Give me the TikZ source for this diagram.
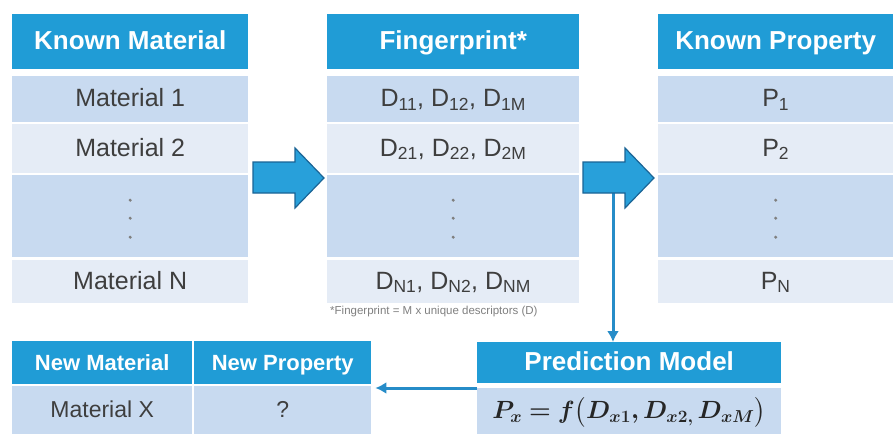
\documentclass[tikz,border=0pt]{standalone}
\usepackage{fontspec}
\setmainfont{Liberation Sans}
\usepackage{amsmath}
\usepackage{bm}
\usetikzlibrary{arrows.meta,positioning,calc}

\definecolor{hdblue}{RGB}{32,156,214}
\definecolor{rowdark}{RGB}{200,218,240}
\definecolor{rowlight}{RGB}{229,236,246}
\definecolor{txtgray}{RGB}{62,62,62}
\definecolor{arrfill}{RGB}{40,160,218}
\definecolor{arrline}{RGB}{26,100,150}
\definecolor{linkblue}{RGB}{38,140,200}

\begin{document}
\begin{tikzpicture}[x=1pt, y=-1pt,
    hd/.style={fill=hdblue, text=white, font=\bfseries\fontsize{26}{28}\selectfont,
        inner sep=0pt, anchor=north west, minimum height=55pt, text height=21pt, text depth=6pt},
    cell/.style={text=txtgray, font=\fontsize{25}{27}\selectfont, inner sep=0pt, anchor=north west,
        text height=20pt, text depth=5pt},
    rowdk/.style={cell, fill=rowdark},
    rowlt/.style={cell, fill=rowlight},
    blk/.style={fill=arrfill, draw=arrline, line width=1.2pt, line join=miter},
    link/.style={draw=linkblue, line width=3pt, -{Latex[length=11pt,width=12pt]}}]
    \useasboundingbox[fill=white] (0,0) rectangle (893,434);

    % Known material
    \node[hd, minimum width=236pt] (kmh) at (12,14) {Known Material};
    \node[rowdk, minimum width=236pt, minimum height=46pt] (km1) at (12,76) {Material 1};
    \node[rowlt, minimum width=236pt, minimum height=49pt] (km2) at (12,124) {Material 2};
    \node[rowdk, minimum width=236pt, minimum height=82pt] (km3) at (12,175) {};
    \node[rowlt, minimum width=236pt, minimum height=43pt] (kmn) at (12,260) {Material N};

    % Fingerprint
    \node[hd, minimum width=252pt] (fph) at (327,14) {Fingerprint*};
    \node[rowdk, minimum width=252pt, minimum height=46pt] (fp1) at (327,76)
        {D\textsubscript{11}, D\textsubscript{12}, D\textsubscript{1M}};
    \node[rowlt, minimum width=252pt, minimum height=49pt] (fp2) at (327,124)
        {D\textsubscript{21}, D\textsubscript{22}, D\textsubscript{2M}};
    \node[rowdk, minimum width=252pt, minimum height=82pt] (fp3) at (327,175) {};
    \node[rowlt, minimum width=252pt, minimum height=43pt] (fpn) at (327,260)
        {D\textsubscript{N1}, D\textsubscript{N2}, D\textsubscript{NM}};
    \node[text=gray, font=\fontsize{11.5}{13}\selectfont, inner sep=0pt,
        below right=3pt and 3pt of fpn.south west] (fpnote)
        {*Fingerprint = M x unique descriptors (D)};

    % Known property
    \node[hd, minimum width=235pt] (kph) at (658,14) {Known Property};
    \node[rowdk, minimum width=235pt, minimum height=46pt] (kp1) at (658,76) {P\textsubscript{1}};
    \node[rowlt, minimum width=235pt, minimum height=49pt] (kp2) at (658,124) {P\textsubscript{2}};
    \node[rowdk, minimum width=235pt, minimum height=82pt] (kp3) at (658,175) {};
    \node[rowlt, minimum width=235pt, minimum height=43pt] (kpn) at (658,260) {P\textsubscript{N}};

    % Vertical dots
    \foreach \r in {km3,fp3,kp3}
        \foreach \dy in {-16,2,21}
            \fill[gray] ([yshift=-\dy pt]\r.center) circle (1.7pt);

    % New material / new property
    \node[hd, font=\bfseries\fontsize{22}{24}\selectfont, minimum width=180pt, minimum height=43pt]
        (nmh) at (12,341) {New Material};
    \node[hd, font=\bfseries\fontsize{22}{24}\selectfont, minimum width=177pt, minimum height=43pt]
        (nph) at (194,341) {New Property};
    \node[rowdk, font=\fontsize{23}{25}\selectfont, minimum width=180pt, minimum height=48pt]
        (nmr) at (12,386) {Material X};
    \node[rowdk, font=\fontsize{23}{25}\selectfont, minimum width=177pt, minimum height=48pt]
        (npr) at (194,386) {?};

    % Prediction model
    \node[hd, minimum width=304pt, minimum height=41pt] (pmh) at (477,342) {Prediction Model};
    \node[rowdk, text=black!85, minimum width=304pt, minimum height=46pt] (pmr) at (477,388)
        {$\bm{P_x = f\bigl(D_{x1}, D_{x2,}\,D_{xM}\bigr)}$};

    % Connectors
    \coordinate (fork) at (613,193);
    \draw[link] (fork) -- (fork |- pmh.north);
    \draw[link] (pmr.north west) -- ([xshift=4pt]pmr.north west -| npr.east);

    % Block arrows
    \foreach \ax in {253,583} {
        \draw[blk] (\ax,162) -- (\ax+42,162) -- (\ax+42,148) -- (\ax+71,178)
            -- (\ax+42,208) -- (\ax+42,193) -- (\ax,193) -- cycle;
    }
\end{tikzpicture}
\end{document}
